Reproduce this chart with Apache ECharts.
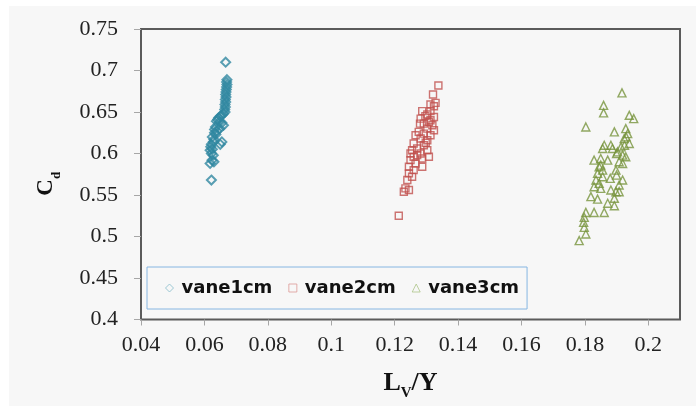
<!DOCTYPE html>
<html>
<head>
<meta charset="utf-8">
<script src="https://cdn.jsdelivr.net/npm/echarts@6/dist/echarts.min.js"></script>
<style>
  html, body { margin: 0; padding: 0; background: #ffffff; }
  #paper { position: absolute; left: 9px; top: 6px; width: 687px; height: 400px; background: #f7f7f7; }
  #chart { position: absolute; left: 0; top: 0; width: 696px; height: 406px; }
</style>
</head>
<body>
<div id="paper"></div>
<div id="chart"></div>
<script>
  // series names
  const seriesNames = ['vane1cm', 'vane2cm', 'vane3cm'];

  // [Lv/Y, Cd] pairs
  const vane1 = [
    [0.0667, 0.710], [0.0671, 0.689], [0.0670, 0.686], [0.0671, 0.683], [0.0670, 0.680],
    [0.0669, 0.677], [0.0668, 0.674], [0.0667, 0.671], [0.0668, 0.668], [0.0666, 0.665],
    [0.0667, 0.662], [0.0665, 0.659], [0.0666, 0.656], [0.0664, 0.653], [0.0665, 0.650],
    [0.0660, 0.648], [0.0655, 0.646], [0.0650, 0.645], [0.0645, 0.643], [0.0642, 0.641],
    [0.0638, 0.639], [0.0648, 0.638], [0.0655, 0.637], [0.0660, 0.634], [0.0635, 0.632],
    [0.0632, 0.629], [0.0640, 0.627], [0.0648, 0.630], [0.0632, 0.625], [0.0636, 0.623],
    [0.0625, 0.620], [0.0630, 0.617], [0.0628, 0.614], [0.0655, 0.614], [0.0650, 0.611],
    [0.0622, 0.611], [0.0620, 0.608], [0.0625, 0.605], [0.0618, 0.604], [0.0622, 0.600],
    [0.0628, 0.598], [0.0624, 0.592], [0.0618, 0.588], [0.0630, 0.590], [0.0622, 0.568]
  ];

  const vane2 = [
    [0.1338, 0.682], [0.1321, 0.671], [0.1329, 0.661], [0.1313, 0.659], [0.1324, 0.657],
    [0.1287, 0.651], [0.1313, 0.651], [0.1303, 0.647], [0.1297, 0.645], [0.1324, 0.644],
    [0.1282, 0.642], [0.1313, 0.640], [0.1308, 0.638], [0.1292, 0.636], [0.1280, 0.636],
    [0.1319, 0.634], [0.1303, 0.630], [0.1324, 0.628], [0.1276, 0.626], [0.1292, 0.624],
    [0.1266, 0.622], [0.1313, 0.622], [0.1282, 0.618], [0.1303, 0.616], [0.1298, 0.613],
    [0.1260, 0.612], [0.1292, 0.610], [0.1271, 0.606], [0.1255, 0.604], [0.1303, 0.604],
    [0.1282, 0.600], [0.1250, 0.600], [0.1271, 0.598], [0.1260, 0.596], [0.1308, 0.596],
    [0.1287, 0.594], [0.1250, 0.592], [0.1266, 0.588], [0.1287, 0.584], [0.1245, 0.584],
    [0.1260, 0.580], [0.1245, 0.576], [0.1255, 0.572], [0.1240, 0.568], [0.1234, 0.558],
    [0.1245, 0.556], [0.1229, 0.554], [0.1213, 0.525]
  ];

  const vane3 = [
    [0.1917, 0.673], [0.1859, 0.658], [0.1859, 0.649], [0.1940, 0.646], [0.1954, 0.642],
    [0.1803, 0.632], [0.1929, 0.630], [0.1893, 0.626], [0.1935, 0.624], [0.1930, 0.620],
    [0.1924, 0.618], [0.1940, 0.612], [0.1861, 0.610], [0.1882, 0.610], [0.1925, 0.610],
    [0.1914, 0.608], [0.1856, 0.606], [0.1887, 0.606], [0.1903, 0.602], [0.1900, 0.600],
    [0.1919, 0.598], [0.1929, 0.596], [0.1850, 0.594], [0.1829, 0.592], [0.1872, 0.592],
    [0.1908, 0.590], [0.1919, 0.588], [0.1850, 0.586], [0.1845, 0.584], [0.1856, 0.580],
    [0.1898, 0.580], [0.1840, 0.576], [0.1900, 0.574], [0.1856, 0.572], [0.1880, 0.570],
    [0.1835, 0.568], [0.1919, 0.568], [0.1845, 0.564], [0.1908, 0.562], [0.1829, 0.560],
    [0.1850, 0.558], [0.1882, 0.556], [0.1898, 0.554], [0.1908, 0.554], [0.1819, 0.548],
    [0.1893, 0.546], [0.1840, 0.545], [0.1872, 0.540], [0.1893, 0.537], [0.1803, 0.529],
    [0.1829, 0.529], [0.1861, 0.529], [0.1798, 0.523], [0.1796, 0.517], [0.1798, 0.511],
    [0.1803, 0.503], [0.1782, 0.495]
  ];

  // axis ranges / ticks
  const xMin = 0.04, xMax = 0.21, xStep = 0.02;
  const yMin = 0.4, yMax = 0.75, yStep = 0.05;

  const colors = ['#2f87a0', '#c0504d', '#77933c'];
  // the legend keys are drawn fainter than the marks
  const legendColors = ['#86bccb', '#dc9896', '#aec58a'];
  const serif = 'Liberation Serif';

  const chart = echarts.init(document.getElementById('chart'));

  const marker = (name, data, symbol, size, color, width) => ({
    name,
    type: 'scatter',
    data,
    symbol,
    symbolSize: size,
    itemStyle: {
      color: 'rgba(0,0,0,0)',
      borderColor: color,
      borderWidth: width
    },
    emphasis: { disabled: true }
  });

  chart.setOption({
    animation: false,
    grid: {
      left: 141,
      right: 16,
      top: 29,
      bottom: 81,
      show: true,
      borderColor: '#5b5b5b',
      borderWidth: 2,
      backgroundColor: 'transparent'
    },
    legend: {
      data: seriesNames.map((name, i) => ({
        name,
        itemStyle: { color: 'rgba(0,0,0,0)', borderColor: legendColors[i], borderWidth: 1 }
      })),
      left: 147,
      top: 267,
      padding: [11, 8, 11, 18],
      itemGap: 16,
      itemWidth: 8,
      itemHeight: 8,
      borderColor: '#86b6e2',
      borderWidth: 1,
      selectedMode: false,
      textStyle: {
        fontFamily: 'DejaVu Sans',
        fontWeight: 'bold',
        fontSize: 18,
        lineHeight: 20,
        padding: [0, 0, 0, 3],
        color: '#111'
      }
    },
    xAxis: {
      type: 'value',
      min: xMin,
      max: xMax,
      interval: xStep,
      name: '{a|L}{b|V}{a|/Y}',
      nameLocation: 'middle',
      nameGap: 51,
      nameTextStyle: {
        rich: {
          a: { fontFamily: serif, fontWeight: 'bold', fontSize: 26, lineHeight: 30, color: '#111', padding: [0, 0, 5, 0] },
          b: { fontFamily: serif, fontWeight: 'bold', fontSize: 15, lineHeight: 15, color: '#111', verticalAlign: 'bottom' }
        }
      },
      axisLine: { show: false },
      axisTick: { show: true, length: 6, lineStyle: { color: '#a6a6a6' } },
      splitLine: { show: false },
      axisLabel: {
        margin: 15,
        fontFamily: serif,
        fontSize: 22,
        color: '#222',
        showMaxLabel: false
      }
    },
    yAxis: {
      type: 'value',
      min: yMin,
      max: yMax,
      interval: yStep,
      name: '{a|C}{b|d}',
      nameLocation: 'middle',
      nameRotate: 90,
      nameGap: 78,
      nameTextStyle: {
        padding: [0, 19, 0, 0],
        rich: {
          a: { fontFamily: serif, fontWeight: 'bold', fontSize: 23, lineHeight: 28, color: '#111', padding: [0, 0, 6, 0] },
          b: { fontFamily: serif, fontWeight: 'bold', fontSize: 13, lineHeight: 13, color: '#111', verticalAlign: 'bottom' }
        }
      },
      axisLine: { show: false },
      axisTick: { show: true, length: 7, lineStyle: { color: '#a6a6a6' } },
      splitLine: { show: false },
      axisLabel: {
        margin: 23,
        fontFamily: serif,
        fontSize: 22,
        color: '#222'
      }
    },
    series: [
      marker(seriesNames[0], vane1, 'diamond', 9, colors[0], 2),
      marker(seriesNames[1], vane2, 'rect', 7, colors[1], 1.4),
      marker(seriesNames[2], vane3, 'triangle', 8, colors[2], 1.4)
    ]
  });
</script>
</body>
</html>
